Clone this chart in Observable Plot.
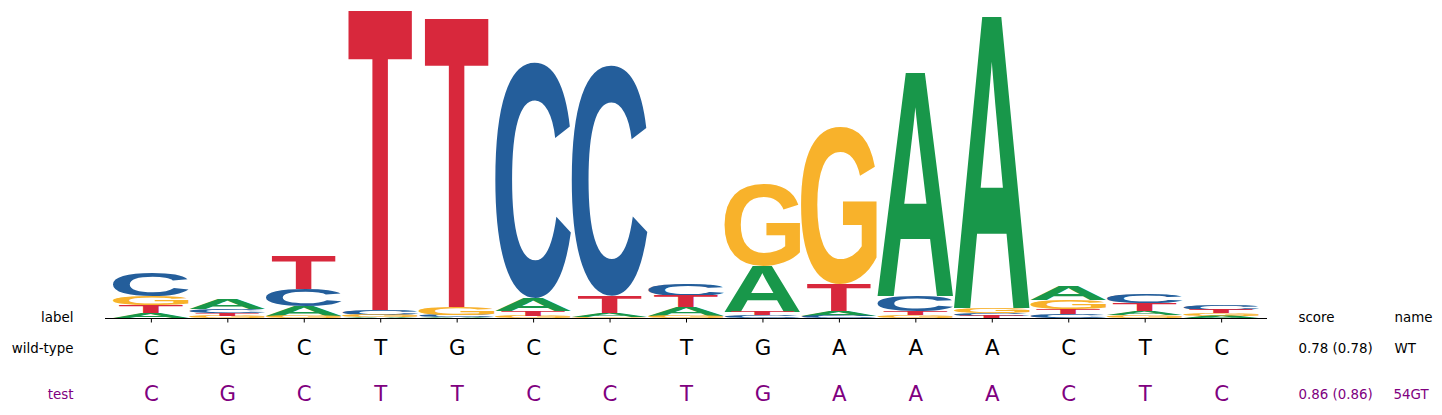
<!DOCTYPE html>
<html>
<head>
<meta charset="utf-8">
<script src="https://cdn.jsdelivr.net/npm/d3@7"></script>
<script src="https://cdn.jsdelivr.net/npm/@observablehq/plot@0.6"></script>
<style>
  html, body { margin: 0; padding: 0; background: #fff; }
  #chart svg { display: block; }
</style>
</head>
<body>
<div id="chart"></div>
<script>
// ---- data (information content in bits per letter, per position) ----
const positions = [1, 2, 3, 4, 5, 6, 7, 8, 9, 10, 11, 12, 13, 14, 15];
const valuesA = [0.032, 0.064, 0.064, 0.006, 0.006, 0.083, 0.026, 0.058, 0.294, 0.032, 1.425, 1.859, 0.089, 0.026, 0.013];
const valuesC = [0.153, 0.026, 0.109, 0.032, 0.013, 1.502, 1.470, 0.077, 0.016, 0.013, 0.096, 0.019, 0.026, 0.054, 0.032];
const valuesG = [0.058, 0.013, 0.013, 0.013, 0.051, 0.013, 0.006, 0.013, 0.524, 0.997, 0.019, 0.032, 0.058, 0.019, 0.017];
const valuesT = [0.051, 0.019, 0.211, 1.911, 1.840, 0.032, 0.109, 0.070, 0.022, 0.173, 0.026, 0.013, 0.032, 0.048, 0.021];
const letters = ["A", "C", "G", "T"];
const letterColors = ["#18974a", "#245e9b", "#f8b22b", "#d8283c"];
const wildType = "CGCTGCCTGAAACTC".split("");
const testSeq = "CGCTTCCTGAAACTC".split("");
const rowNames = ["label", "wild-type", "test"];
const scoreHeader = ["score", "name"];
const wtInfo = ["0.78 (0.78)", "WT"];
const testInfo = ["0.86 (0.86)", "54GT"];

// ---- tidy table ----
const seriesByLetter = {A: valuesA, C: valuesC, G: valuesG, T: valuesT};
const logoData = [];
for (const L of letters) {
  seriesByLetter[L].forEach((v, i) => logoData.push({pos: positions[i], letter: L, value: v}));
}

// ---- glyph ink bounds by scanning rendered pixels ----
const FONT = "'Liberation Sans', Arial, sans-serif";
const FS = 500;
const metrics = {};
{
  const W = 800, H = 800, ox = 100, oy = 650;
  const cv = document.createElement("canvas");
  cv.width = W; cv.height = H;
  const ctx = cv.getContext("2d", {willReadFrequently: true});
  for (const L of letters) {
    ctx.clearRect(0, 0, W, H);
    ctx.font = `bold ${FS}px ${FONT}`;
    ctx.textAlign = "left";
    ctx.textBaseline = "alphabetic";
    ctx.fillStyle = "#000";
    ctx.fillText(L, ox, oy);
    const px = ctx.getImageData(0, 0, W, H).data;
    let x0 = W, x1 = -1, y0 = H, y1 = -1;
    for (let y = 0; y < H; y++) for (let x = 0; x < W; x++) {
      if (px[(y * W + x) * 4 + 3] > 127) {
        if (x < x0) x0 = x; if (x > x1) x1 = x;
        if (y < y0) y0 = y; if (y > y1) y1 = y;
      }
    }
    metrics[L] = {l: ox - x0, r: x1 + 1 - ox, a: oy - y0, d: y1 + 1 - oy};
  }
}
const narrow = {T: 0.84};

function glyphRender(index, scales, values) {
  const g = d3.create("svg:g");
  const X1 = values.x1, X2 = values.x2, Y1 = values.y1, Y2 = values.y2, F = values.fill;
  for (const i of index) {
    const d = logoData[i];
    const x = Math.min(X1[i], X2[i]);
    const w = Math.abs(X2[i] - X1[i]);
    const y = Math.min(Y1[i], Y2[i]);
    const h = Math.abs(Y2[i] - Y1[i]);
    if (!(h > 0)) continue;
    const m = metrics[d.letter];
    const gw = m.l + m.r, gh = m.a + m.d;
    const we = w * (narrow[d.letter] || 1);
    g.append("text")
      .attr("x", 0).attr("y", 0)
      .attr("text-anchor", "start")
      .attr("dominant-baseline", "alphabetic")
      .attr("font-family", FONT)
      .attr("font-weight", "bold")
      .attr("font-size", FS)
      .attr("fill", F[i])
      .attr("transform", `translate(${x + (w - we) / 2},${y}) scale(${we / gw},${h / gh}) translate(${m.l},${m.a})`)
      .text(d.letter);
  }
  return g.node();
}

const seqRow = (seq, color, dy) => Plot.text(seq, {
  x: (d, i) => positions[i], text: d => d, frameAnchor: "bottom", lineAnchor: "middle", dy,
  fontSize: 21.3, fill: color, fontFamily: "DejaVu Sans"
});

// one fixed-position label (frame-anchored, offset in pixels)
const label = (t, anchor, textAnchor, dx, dy, color) => Plot.text([t], {
  text: d => d, frameAnchor: anchor, textAnchor, lineAnchor: "middle", dx, dy,
  fontSize: 13.4, fontFamily: "DejaVu Sans", fill: color
});

const chart = Plot.plot({
  width: 1442,
  height: 415,
  marginLeft: 105,
  marginRight: 175,
  marginTop: 5,
  marginBottom: 97,
  x: {domain: [0.4, 15.6], axis: null},
  y: {domain: [0, 2], axis: null},
  color: {domain: letters, range: letterColors},
  style: {fontFamily: "DejaVu Sans", background: "#fff"},
  marks: [
    Plot.rectY(logoData, {
      x1: d => d.pos - 0.4925, x2: d => d.pos + 0.4925,
      y: "value", fill: "letter", order: "value",
      render: glyphRender
    }),
    Plot.ruleY([0], {stroke: "#000", strokeWidth: 1.1}),
    Plot.axisX(positions, {tickSize: 4.5, tickFormat: () => "", stroke: "#000"}),
    // row titles
    label(rowNames[0], "bottom-left", "end", -32, -1, "#000"),
    label(rowNames[1], "bottom-left", "end", -32, 30, "#000"),
    label(rowNames[2], "bottom-left", "end", -32, 76, "#800080"),
    seqRow(wildType, "#000", 30),
    seqRow(testSeq, "#800080", 76),
    // right columns
    label(scoreHeader[0], "bottom-right", "start", 31, -1, "#000"),
    label(scoreHeader[1], "bottom-right", "start", 127, -1, "#000"),
    label(wtInfo[0], "bottom-right", "start", 31, 30, "#000"),
    label(wtInfo[1], "bottom-right", "start", 127, 30, "#000"),
    label(testInfo[0], "bottom-right", "start", 31, 76, "#800080"),
    label(testInfo[1], "bottom-right", "start", 126, 76, "#800080")
  ]
});

document.getElementById("chart").appendChild(chart);
</script>
</body>
</html>
